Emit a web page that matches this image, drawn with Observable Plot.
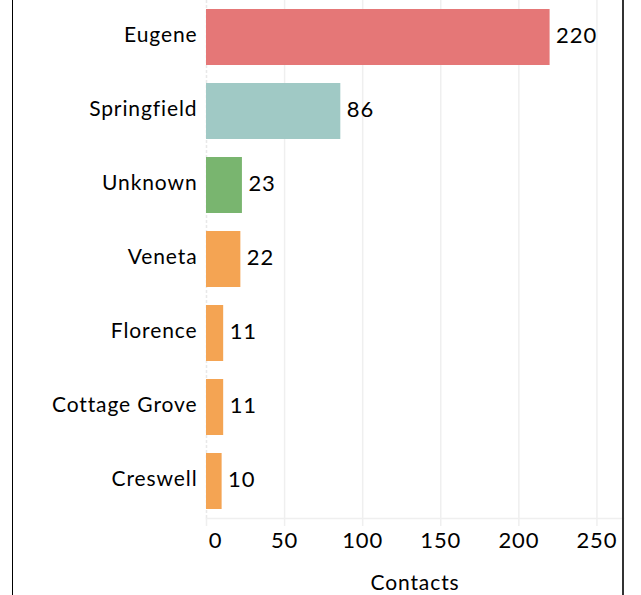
<!DOCTYPE html>
<html>
<head>
<meta charset="utf-8">
<script src="https://cdn.jsdelivr.net/npm/d3@7"></script>
<script src="https://cdn.jsdelivr.net/npm/@observablehq/plot@0.6"></script>
<style>
  html, body { margin: 0; padding: 0; background: #fff; }
  #wrap { position: relative; width: 641px; height: 595px; overflow: hidden; }
  #wrap svg { display: block; }
  #wrap svg text { letter-spacing: 0.9px; }
  .bl { position: absolute; top: 0; bottom: 0; left: 12px; width: 1px; background: #000; }
  .br { position: absolute; top: 0; bottom: 0; left: 622px; width: 2px; background: #333; }
</style>
</head>
<body>
<div id="wrap"><div class="bl"></div><div class="br"></div></div>
<script>
const cities = ["Eugene", "Springfield", "Unknown", "Veneta", "Florence", "Cottage Grove", "Creswell"];
const contacts = [220, 86, 23, 22, 11, 11, 10];
const colors = ["#e57777", "#a0c9c5", "#79b56f", "#f4a453", "#f4a453", "#f4a453", "#f4a453"];
const xTicks = [0, 50, 100, 150, 200, 250];
const xLabel = "Contacts";

const data = cities.map((c, i) => ({city: c, contacts: contacts[i], color: colors[i]}));
const font = "Lato, 'Open Sans', sans-serif";

const chart = Plot.plot({
  width: 641,
  height: 595,
  marginTop: 0,
  marginBottom: 77,
  marginLeft: 206,
  marginRight: 18,
  style: {fontFamily: font, background: "transparent", overflow: "visible"},
  x: {domain: [0, 267]},
  y: {domain: cities, paddingInner: 0.24, paddingOuter: 0.1},
  marks: [
    Plot.ruleX(xTicks.slice(1), {stroke: "#efefef", strokeWidth: 1.5}),
    Plot.ruleX([0], {stroke: "#e8e8e8", strokeWidth: 1.5, strokeDasharray: "3,2"}),
    Plot.frame({anchor: "bottom", stroke: "#efefef", strokeWidth: 1.5}),
    Plot.barX(data, {y: "city", x: "contacts", fill: "color"}),
    Plot.text(data, {y: "city", x: "contacts", text: d => String(d.contacts), dx: 6, dy: -2, textAnchor: "start", fontSize: 22, fill: "#000"}),
    Plot.axisY({tickSize: 0, tickPadding: 9, fontSize: 21, fill: "#000", dy: -2, label: null}),
    Plot.axisX(xTicks, {tickSize: 8, stroke: "#efefef", strokeWidth: 1.5, text: null, label: null}),
    Plot.axisX(xTicks.slice(1), {tickSize: 0, tickPadding: 14, fontSize: 22, fill: "#000", label: null}),
    Plot.axisX([0], {tickSize: 0, tickPadding: 14, fontSize: 22, fill: "#000", dx: 9, label: null}),
    Plot.text([xLabel], {frameAnchor: "bottom", dy: 65, fontSize: 21, fill: "#000", lineAnchor: "middle"})
  ]
});
document.getElementById("wrap").prepend(chart);
</script>
</body>
</html>
